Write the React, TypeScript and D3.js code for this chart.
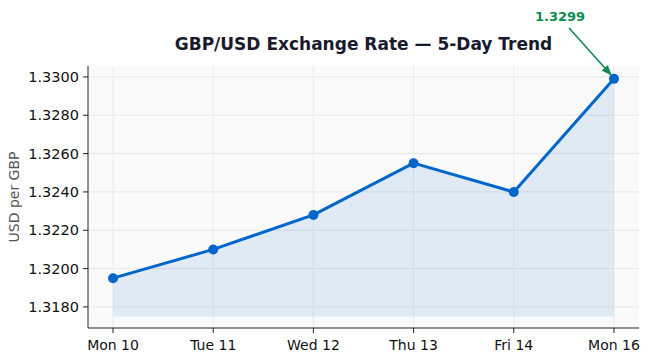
import React from 'react';
import * as d3 from 'd3';

// chart data
const days = ['Mon 10', 'Tue 11', 'Wed 12', 'Thu 13', 'Fri 14', 'Mon 16'];
const rates = [1.3195, 1.321, 1.3228, 1.3255, 1.324, 1.3299];
const yTicks = [1.318, 1.32, 1.322, 1.324, 1.326, 1.328, 1.33];
const fillBase = 1.3175;

const W = 650;
const H = 363;
const margin = { top: 66, right: 11, bottom: 35, left: 88 };

export default function App() {
  const innerW = W - margin.left - margin.right;
  const innerH = H - margin.top - margin.bottom;

  const x = d3.scaleLinear().domain([-0.25, days.length - 0.75]).range([0, innerW]);
  const y = d3.scaleLinear().domain([1.3169, 1.33057]).range([innerH, 0]);

  const line = d3
    .line<number>()
    .x((_, i) => x(i))
    .y((d) => y(d));

  const area = d3
    .area<number>()
    .x((_, i) => x(i))
    .y0(y(fillBase))
    .y1((d) => y(d));

  const last = rates.length - 1;
  const px = margin.left + x(last);
  const py = margin.top + y(rates[last]);

  return (
    <svg
      width={W}
      height={H}
      style={{ position: 'absolute', left: 0, top: 0, background: '#fff' }}
      fontFamily="DejaVu Sans, sans-serif"
    >
      <defs>
        <marker id="arr" viewBox="0 0 10 10" refX="9" refY="5" markerWidth="7" markerHeight="7" orient="auto">
          <path d="M0,1 L10,5 L0,9 z" fill="#0a8a50" />
        </marker>
      </defs>
      <g transform={`translate(${margin.left},${margin.top})`}>
        <rect width={innerW} height={innerH} fill="#fafafa" />
        {/* grid */}
        {yTicks.map((t) => (
          <line key={t} x1={0} x2={innerW} y1={y(t)} y2={y(t)} stroke="#e6e6e6" strokeWidth={1} />
        ))}
        {days.map((d, i) => (
          <line key={d} x1={x(i)} x2={x(i)} y1={0} y2={innerH} stroke="#eaeaea" strokeWidth={1} />
        ))}
        {/* area + line */}
        <path d={area(rates) ?? ''} fill="#0066cc" fillOpacity={0.1} />
        <path d={line(rates) ?? ''} fill="none" stroke="#0066cc" strokeWidth={3} strokeLinejoin="round" />
        {rates.map((r, i) => (
          <circle key={i} cx={x(i)} cy={y(r)} r={5} fill="#0066cc" />
        ))}
        {/* axes */}
        <line x1={0} x2={0} y1={0} y2={innerH} stroke="#222" strokeWidth={1} />
        <line x1={0} x2={innerW} y1={innerH} y2={innerH} stroke="#222" strokeWidth={1} />
        {yTicks.map((t) => (
          <g key={t} transform={`translate(0,${y(t)})`}>
            <line x1={-5} x2={0} stroke="#222" />
            <text x={-9} dy="0.35em" textAnchor="end" fontSize={14.5} fill="#111">
              {d3.format('.4f')(t)}
            </text>
          </g>
        ))}
        {days.map((d, i) => (
          <g key={d} transform={`translate(${x(i)},${innerH})`}>
            <line y1={0} y2={5} stroke="#222" />
            <text y={22} textAnchor="middle" fontSize={14} fill="#111">
              {d}
            </text>
          </g>
        ))}
      </g>
      <text
        transform={`translate(19,${margin.top + innerH / 2}) rotate(-90)`}
        textAnchor="middle"
        fontSize={14}
        fill="#555"
      >
        USD per GBP
      </text>
      <text x={margin.left + innerW / 2} y={50} textAnchor="middle" fontSize={17} fontWeight="bold" fill="#1a1a2e">
        GBP/USD Exchange Rate — 5-Day Trend
      </text>
      <text x={560} y={21} textAnchor="middle" fontSize={13} fontWeight="bold" fill="#0a8a50">
        {d3.format('.4f')(rates[last])}
      </text>
      <line x1={569} y1={28} x2={px - 3} y2={py - 4} stroke="#0a8a50" strokeWidth={1.5} markerEnd="url(#arr)" />
    </svg>
  );
}
